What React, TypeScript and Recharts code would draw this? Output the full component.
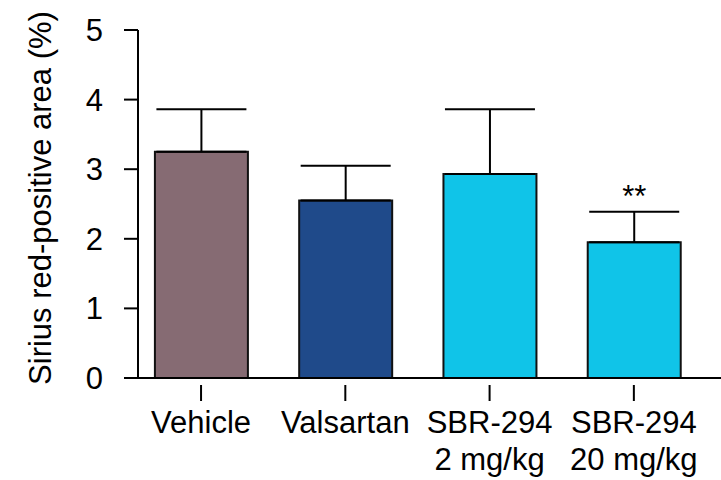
import { BarChart, Bar, XAxis, YAxis, ErrorBar, LabelList } from "recharts";

const groups = ["Vehicle", "Valsartan", "SBR-294", "SBR-294"];
const doses = ["", "", "2 mg/kg", "20 mg/kg"];
const means = [3.25, 2.55, 2.93, 1.95];
const sems = [0.61, 0.5, 0.93, 0.44];
const marks = ["", "", "", "**"];
const colors = ["#866b73", "#1f4a8a", "#10c4e8", "#10c4e8"];
const yTicks = [0, 1, 2, 3, 4, 5];

const FONT = "'Liberation Sans', Arial, sans-serif";
const FS = 31;

const data = groups.map((g, i) => ({
  pos: i,
  mean: means[i],
  err: [0, sems[i]],
  mark: marks[i],
  fill: colors[i],
}));

function GroupTick(props: any) {
  const { x, y, payload } = props;
  const i = payload.value;
  return (
    <g fontFamily={FONT} fontSize={FS} fill="#000">
      <line x1={x} y1={y - 1} x2={x} y2={y + 15} stroke="#000" strokeWidth={2} />
      <text x={x} y={433} textAnchor="middle" fill="#000">
        {groups[i]}
      </text>
      {doses[i] && (
        <text x={x} y={470} textAnchor="middle" fill="#000">
          {doses[i]}
        </text>
      )}
    </g>
  );
}

function SigLabel(props: any) {
  const { x, y, width, height, value, index } = props;
  if (!value) return null;
  const pxPerUnit = height / means[index];
  const top = y - sems[index] * pxPerUnit;
  return (
    <text x={x + width / 2} y={top - 5} textAnchor="middle" fontFamily={FONT} fontSize={FS} fill="#000">
      {value}
    </text>
  );
}

function YTitle() {
  return (
    <text
      x={51}
      y={198}
      transform="rotate(-90 51 198)"
      textAnchor="middle"
      fontFamily={FONT}
      fontSize={FS}
      fill="#000"
    >
      Sirius red-positive area (%)
    </text>
  );
}

export default function App() {
  return (
    <div style={{ position: "absolute", left: 0, top: 0, background: "#fff" }}>
      <BarChart width={721} height={480} data={data} margin={{ top: 30, right: 0, bottom: 0, left: 0 }}>
        <XAxis
          dataKey="pos"
          type="number"
          domain={[-0.437, 3.604]}
          ticks={[0, 1, 2, 3]}
          allowDataOverflow
          axisLine={{ stroke: "#000", strokeWidth: 2 }}
          tickLine={false}
          tick={<GroupTick />}
          interval={0}
          height={102}
        />
        <YAxis
          domain={[0, 5]}
          ticks={yTicks}
          width={138}
          tickSize={14}
          tickMargin={21}
          axisLine={{ stroke: "#000", strokeWidth: 2 }}
          tickLine={{ stroke: "#000", strokeWidth: 2 }}
          tick={{ fill: "#000", fontSize: FS, fontFamily: FONT }}
          label={<YTitle />}
        />
        <Bar dataKey="mean" barSize={93} stroke="#111" strokeWidth={2} isAnimationActive={false}>
          <ErrorBar dataKey="err" direction="y" width={45} stroke="#000" strokeWidth={2} />
          <LabelList dataKey="mark" content={<SigLabel />} />
        </Bar>
      </BarChart>
    </div>
  );
}
